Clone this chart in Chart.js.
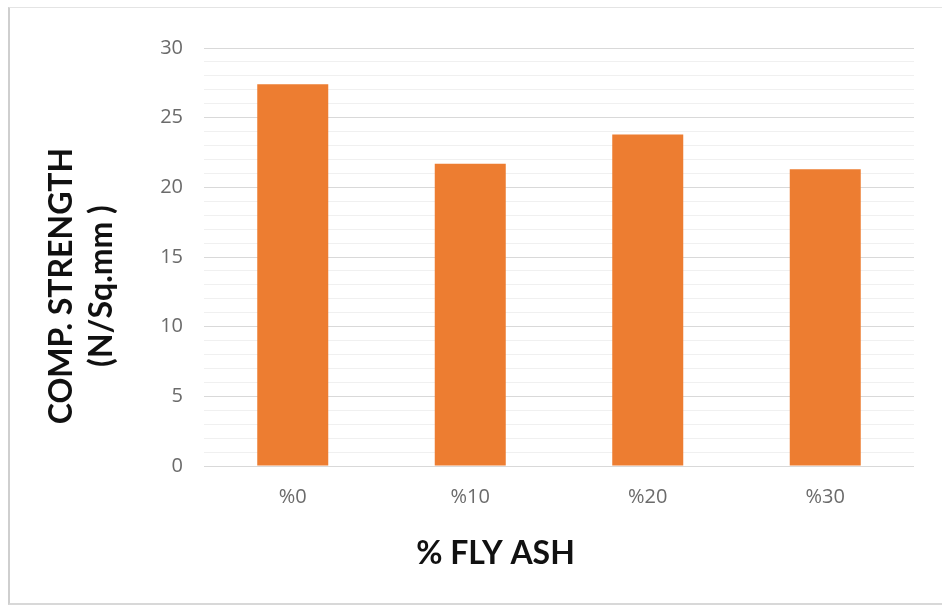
<!DOCTYPE html>
<html>
<head>
<meta charset="utf-8">
<script src="https://cdn.jsdelivr.net/npm/chart.js@4.4.1/dist/chart.umd.min.js"></script>
<style>
  html, body { margin: 0; padding: 0; background: #ffffff; }
  #frame {
    position: absolute; left: 8px; top: 7px; width: 940px; height: 598px;
    border-left: 2px solid #cfcfcf; border-top: 1px solid #e4e4e4; border-bottom: 2px solid #d8d8d8;
    box-sizing: border-box;
  }
  #wrap { position: absolute; left: 0; top: 0; width: 942px; height: 606px; }
</style>
</head>
<body>
<div id="frame"></div>
<div id="wrap"><canvas id="chart" width="942" height="606"></canvas></div>
<script>
// Compressive strength for each fly-ash replacement level
const categories = ['%0', '%10', '%20', '%30'];
const strength = [27.4, 21.7, 23.8, 21.3];

// Axis titles
const yTitleLines = ['COMP. STRENGTH', '(N/Sq.mm )'];
const xTitle = '% FLY ASH';

// Value axis range: labelled every 5, light minor lines every 1
const yMin = 0;
const yMax = 30;
const majorStep = 5;
const minorStep = 1;

// Draws the two axis titles in their own spots
const axisTitles = {
  id: 'axisTitles',
  afterDraw(chart) {
    const ctx = chart.ctx;
    ctx.save();
    ctx.fillStyle = '#111111';
    ctx.font = 'bold 32px Lato';
    ctx.textAlign = 'center';
    ctx.textBaseline = 'middle';
    // vertical title, two lines
    ctx.save();
    ctx.translate(62, 286);
    ctx.rotate(-Math.PI / 2);
    yTitleLines.forEach((line, i) => ctx.fillText(line, 0, i * 40));
    ctx.restore();
    // horizontal title
    ctx.fillText(xTitle, 495.5, 553.5);
    ctx.restore();
  }
};

new Chart(document.getElementById('chart'), {
  type: 'bar',
  data: {
    labels: categories,
    datasets: [{
      data: strength,
      backgroundColor: '#ED7D31',
      borderWidth: 0,
      categoryPercentage: 1.0,
      barPercentage: 0.4
    }]
  },
  options: {
    responsive: false,
    animation: false,
    devicePixelRatio: 1,
    layout: { padding: { left: 0, top: 48, right: 28, bottom: 80 } },
    plugins: { legend: { display: false }, tooltip: { enabled: false } },
    scales: {
      x: {
        grid: { display: false, drawTicks: false },
        border: { display: false },
        ticks: {
          color: '#6b6b6b',
          font: { family: 'Open Sans', size: 20 },
          padding: 19
        },
        afterFit(scale) { scale.height = 60; }
      },
      y: {
        min: yMin,
        max: yMax,
        grid: {
          drawTicks: false,
          lineWidth: 1,
          color: (c) => (c.tick && c.tick.value % majorStep === 0) ? '#d9d9d9' : '#f0f0f0'
        },
        border: { display: false },
        ticks: {
          stepSize: minorStep,
          autoSkip: false,
          color: '#6b6b6b',
          font: { family: 'Open Sans', size: 20 },
          padding: 21,
          callback: (v) => (v % majorStep === 0 ? String(v) : '')
        },
        afterFit(scale) { scale.width = 204; }
      }
    }
  },
  plugins: [axisTitles]
});
</script>
</body>
</html>
